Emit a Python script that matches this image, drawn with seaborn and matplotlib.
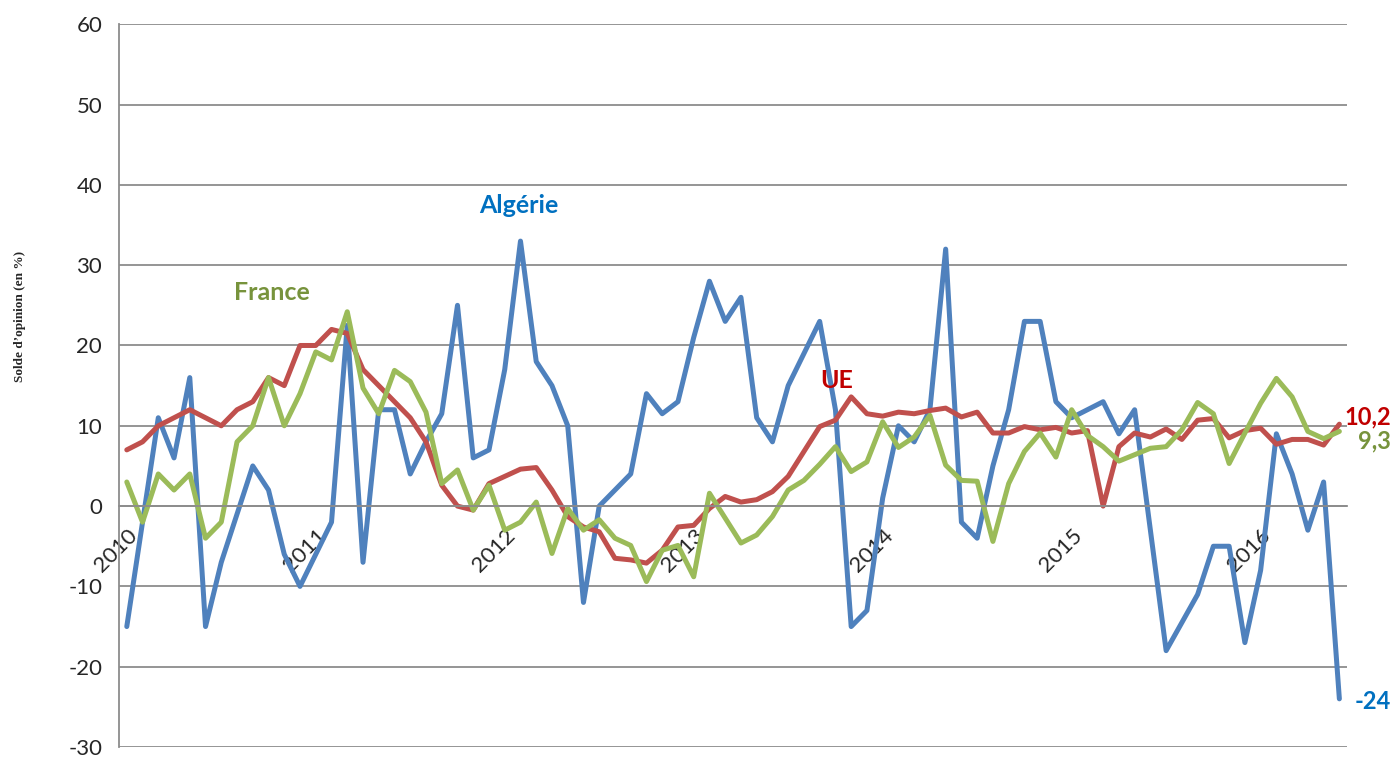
import numpy as np
import pandas as pd
import seaborn as sns
import matplotlib.pyplot as plt

# Monthly opinion balance, Jan 2010 - Jun 2016
years = ['2010', '2011', '2012', '2013', '2014', '2015', '2016']

algerie = [-15, -2, 11, 6, 16, -15, -7, -1, 5, 2,
           -6, -10, -6, -2, 22.5, -7, 12, 12, 4, 8,
           11.5, 25, 6, 7, 17, 33, 18, 15, 10, -12,
           0, 2, 4, 14, 11.5, 13, 21, 28, 23, 26,
           11, 8, 15, 19, 23, 12, -15, -13, 1, 10,
           8, 12, 32, -2, -4, 5, 12, 23, 23, 13,
           11, 12, 13, 9, 12, -3, -18, -14.5, -11, -5,
           -5, -17, -8, 9, 4, -3, 3, -24]

ue = [7, 8, 10, 11, 12, 11, 10, 12, 13, 16,
      15, 20, 20, 22, 21.5, 17, 15, 13, 11, 8,
      2.6, 0, -0.5, 2.8, 3.7, 4.6, 4.8, 2, -1.3, -2.6,
      -3.2, -6.5, -6.7, -7.1, -5.5, -2.6, -2.4, -0.3, 1.2, 0.5,
      0.8, 1.8, 3.7, 6.8, 9.9, 10.7, 13.6, 11.5, 11.2, 11.7,
      11.5, 11.9, 12.2, 11.1, 11.7, 9.1, 9.1, 9.9, 9.5, 9.8,
      9.1, 9.4, 0, 7.4, 9.1, 8.6, 9.6, 8.3, 10.7, 10.9,
      8.5, 9.4, 9.7, 7.7, 8.3, 8.3, 7.6, 10.2]

france = [3, -2, 4, 2, 4, -4, -2, 8, 10, 16,
          10, 14, 19.2, 18.2, 24.2, 14.7, 11.5, 16.9, 15.5, 11.7,
          2.8, 4.5, -0.5, 2.6, -3, -2, 0.5, -5.9, -0.3, -3,
          -1.7, -4, -4.9, -9.4, -5.5, -4.9, -8.8, 1.6, -1.5, -4.6,
          -3.6, -1.3, 2, 3.2, 5.2, 7.4, 4.3, 5.5, 10.5, 7.3,
          8.6, 11.3, 5.1, 3.2, 3.1, -4.4, 2.8, 6.8, 9.1, 6.1,
          12, 8.8, 7.4, 5.6, 6.4, 7.2, 7.4, 9.5, 12.9, 11.5,
          5.3, 9.1, 12.8, 15.9, 13.6, 9.3, 8.4, 9.3]

n = len(algerie)
month = np.arange(n)
df = pd.DataFrame({
    'month': np.tile(month, 3),
    'value': algerie + ue + france,
    'serie': ['Algérie'] * n + ['UE'] * n + ['France'] * n,
})

sns.set_style('white')
plt.rcParams['font.family'] = ['Lato', 'DejaVu Sans']
plt.rcParams['axes.unicode_minus'] = False

fig = plt.figure(figsize=(13.99, 7.58), dpi=100)
ax = fig.add_axes([0.085, 0.0145, 0.878, 0.9535])

palette = {'Algérie': '#4F81BD', 'UE': '#C0504D', 'France': '#9BBB59'}
sns.lineplot(data=df, x='month', y='value', hue='serie', palette=palette,
             hue_order=['Algérie', 'UE', 'France'], linewidth=3.6,
             legend=False, ax=ax)

ax.set_xlim(-0.5, n - 0.5)
ax.set_ylim(-30, 60)
ax.set_yticks(range(-30, 61, 10))
ax.yaxis.grid(True, color='#8c8c8c', linewidth=1.3)
ax.set_axisbelow(True)

for s in ['top', 'right']:
    ax.spines[s].set_visible(False)
ax.spines['left'].set_color('#8c8c8c')
ax.spines['left'].set_linewidth(1.3)
ax.spines['bottom'].set_position(('data', 0))
ax.spines['bottom'].set_color('#8c8c8c')
ax.spines['bottom'].set_linewidth(1.3)

ax.tick_params(axis='y', direction='out', length=6, width=1.3, color='#8c8c8c',
               labelsize=16, pad=6)
ax.set_xticks(np.arange(0, n, 12))
ax.set_xticklabels(years, rotation=45, ha='right', va='top',
                   rotation_mode='anchor', fontsize=16)
ax.set_xticks(np.arange(-0.5, n, 1), minor=True)
ax.tick_params(axis='x', which='major', length=0, pad=14)
ax.tick_params(axis='x', which='minor', direction='out', length=6,
               width=1.3, color='#8c8c8c')
ax.set_xlabel('')
ax.set_ylabel('')

fig.text(0.0145, 0.582, 'Solde d\u2019opinion (en %)', rotation=90,
         ha='center', va='center', fontsize=9.5, fontweight='bold',
         family='Liberation Serif')

lab = dict(fontsize=18, fontweight='bold', va='baseline')
ax.text(24.9, 36.5, 'Algérie', color='#0070C0', ha='center', **lab)
ax.text(9.2, 25.7, 'France', color='#77933C', ha='center', **lab)
ax.text(45.05, 14.7, 'UE', color='#C00000', ha='center', **lab)

side = dict(fontsize=17, fontweight='bold', va='baseline', ha='right',
            clip_on=False)
ax.text(80.3, 10.2, '10,2', color='#C00000', **side)
ax.text(80.3, 7.2, '9,3', color='#77933C', **side)
ax.text(80.3, -25.3, '-24', color='#0070C0', **side)

plt.savefig('out.png', dpi=100)
